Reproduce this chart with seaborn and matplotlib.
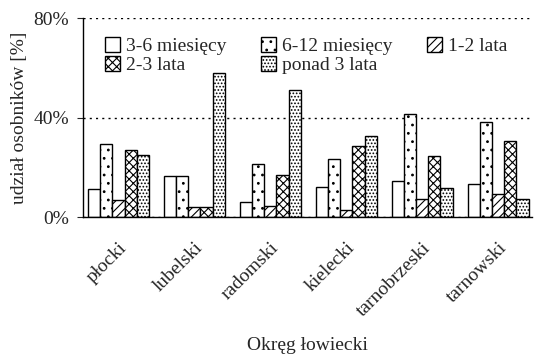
import pandas as pd
import seaborn as sns
import matplotlib.pyplot as plt
from matplotlib.ticker import PercentFormatter
from matplotlib.patches import Patch

# data (percent of individuals)
districts = ['płocki', 'lubelski', 'radomski', 'kielecki', 'tarnobrzeski', 'tarnowski']
age_classes = ['3-6 miesięcy', '6-12 miesięcy', '1-2 lata', '2-3 lata', 'ponad 3 lata']
m3_6 = [11.4, 16.5, 6.0, 12.3, 14.6, 13.4]
m6_12 = [29.5, 16.5, 21.4, 23.2, 41.4, 38.3]
y1_2 = [7.0, 3.9, 4.3, 2.7, 7.1, 9.5]
y2_3 = [27.0, 3.9, 17.0, 28.7, 24.7, 30.7]
over3 = [25.0, 58.0, 51.0, 32.8, 11.9, 7.5]

series = [m3_6, m6_12, y1_2, y2_3, over3]
rows = []
for cls, vals in zip(age_classes, series):
    for d, v in zip(districts, vals):
        rows.append({'district': d, 'cls': cls, 'share': v})
df = pd.DataFrame(rows)

sns.set_theme(style='white')
plt.rcParams['font.family'] = ['Liberation Serif', 'DejaVu Serif']
plt.rcParams['hatch.linewidth'] = 0.8

fig = plt.figure(figsize=(5.34, 3.56), dpi=100)
ax = fig.add_axes([0.155, 0.39, 0.842, 0.559])

sns.barplot(data=df, x='district', y='share', hue='cls', order=districts,
            hue_order=age_classes, palette=['white'] * 5, width=0.8,
            edgecolor='black', linewidth=1.0, ax=ax, legend=False)

hatches = ['', '..', '////', 'xxxx', '.....']
for cont, h in zip(ax.containers, hatches):
    for bar in cont:
        bar.set_hatch(h)

ax.set_ylim(0, 80)
ax.set_xlim(-0.47, 5.45)
ax.set_yticks([0, 40, 80])
ax.yaxis.set_major_formatter(PercentFormatter(decimals=0))
ax.yaxis.grid(True, linestyle=(0, (1.5, 3)), color='black', linewidth=1.0)
ax.set_axisbelow(True)
for s in ['top', 'right']:
    ax.spines[s].set_visible(False)
for s in ['left', 'bottom']:
    ax.spines[s].set_color('black')
    ax.spines[s].set_linewidth(1.0)
ax.tick_params(axis='y', left=True, length=4, width=0.8, labelsize=14, pad=6)
ax.tick_params(axis='x', bottom=False, labelsize=14, pad=10)
plt.setp(ax.get_xticklabels(), rotation=45, ha='right', rotation_mode='anchor')

ax.set_ylabel('udział osobników [%]', fontsize=14)
ax.set_xlabel('Okręg łowiecki', fontsize=14)
ax.xaxis.set_label_coords(0.5, -0.6)

handles = [Patch(facecolor='white', edgecolor='black', hatch=h, label=l)
           for h, l in zip(hatches, age_classes)]
order = [0, 3, 1, 4, 2]
ax.legend([handles[i] for i in order], [age_classes[i] for i in order],
          ncol=3, frameon=False, fontsize=14, loc='upper left',
          bbox_to_anchor=(0.01, 0.995), handlelength=0.8, handleheight=0.8,
          handletextpad=0.3, columnspacing=1.75, labelspacing=0.05)

plt.savefig('out.png', dpi=100)
